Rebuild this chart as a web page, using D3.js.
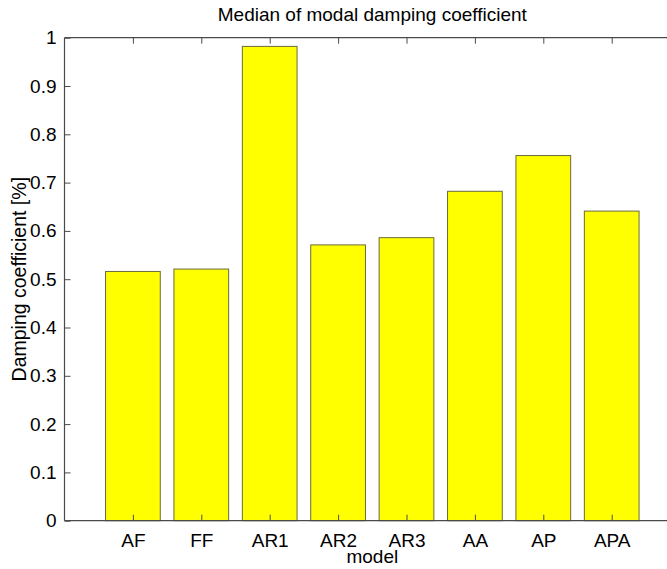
<!DOCTYPE html>
<html>
<head>
<meta charset="utf-8">
<script src="https://cdn.jsdelivr.net/npm/d3@7"></script>
<style>
  html, body { margin: 0; padding: 0; background: #fff; }
  svg { display: block; }
  text { font-family: "Liberation Sans", Arial, Helvetica, sans-serif; fill: #000; }
</style>
</head>
<body>
<svg id="chart" width="667" height="569"></svg>
<script>
// Median modal damping coefficient per model
const models = ["AF", "FF", "AR1", "AR2", "AR3", "AA", "AP", "APA"];
const damping = [0.516, 0.521, 0.982, 0.571, 0.586, 0.682, 0.756, 0.641];
const yTicks = [0, 0.1, 0.2, 0.3, 0.4, 0.5, 0.6, 0.7, 0.8, 0.9, 1];
const yTickLabels = ["0", "0.1", "0.2", "0.3", "0.4", "0.5", "0.6", "0.7", "0.8", "0.9", "1"];

const svg = d3.select("#chart");
const plotLeft = 64.5, plotTop = 37.7, plotBottom = 520.7;
const step = 68.4;
const plotRight = plotLeft + 9 * step;   // axis box runs past the window edge

const x = d3.scaleLinear().domain([0, 9]).range([plotLeft, plotRight]);
const y = d3.scaleLinear().domain([0, 1]).range([plotBottom, plotTop]);
const barW = x(0.8) - x(0);
const tickLen = 6;
const axisColor = "#4a4a4a";
const fontStack = '"Liberation Sans", Arial, sans-serif';

// bars
svg.append("g").selectAll("rect")
  .data(damping)
  .join("rect")
  .attr("x", (d, i) => x(i + 1) - barW / 2)
  .attr("y", d => y(d))
  .attr("width", barW)
  .attr("height", d => y(0) - y(d))
  .attr("fill", "#ffff00")
  .attr("stroke", "#6b6b3a")
  .attr("stroke-width", 1);

// box
const box = svg.append("g").attr("stroke", axisColor).attr("stroke-width", 1.2).attr("fill", "none");
box.append("line").attr("x1", plotLeft).attr("x2", plotRight).attr("y1", plotTop).attr("y2", plotTop);
box.append("line").attr("x1", plotLeft).attr("x2", plotRight).attr("y1", plotBottom).attr("y2", plotBottom);
box.append("line").attr("x1", plotLeft).attr("x2", plotLeft).attr("y1", plotTop).attr("y2", plotBottom);
box.append("line").attr("x1", plotRight).attr("x2", plotRight).attr("y1", plotTop).attr("y2", plotBottom);

// left axis (ticks point inward)
const yAxis = d3.axisLeft(y).tickValues(yTicks)
  .tickFormat((d, i) => yTickLabels[i]).tickSizeInner(-tickLen).tickSizeOuter(0).tickPadding(8);
const gy = svg.append("g").attr("transform", `translate(${plotLeft},0)`).call(yAxis);
gy.select(".domain").remove();
gy.selectAll("line").attr("stroke", axisColor);
gy.selectAll("text").attr("font-size", 19).attr("fill", "#000")
  .style("font-family", fontStack);

// bottom axis
const xAxis = d3.axisBottom(x).tickValues(models.map((m, i) => i + 1))
  .tickFormat((d, i) => models[i]).tickSizeInner(-tickLen).tickSizeOuter(0).tickPadding(13);
const gx = svg.append("g").attr("transform", `translate(0,${plotBottom})`).call(xAxis);
gx.select(".domain").remove();
gx.selectAll("line").attr("stroke", axisColor);
gx.selectAll("text").attr("font-size", 19).attr("fill", "#000")
  .style("font-family", fontStack);

// top edge ticks
const gt = svg.append("g").attr("transform", `translate(0,${plotTop})`)
  .call(d3.axisTop(x).tickValues(models.map((m, i) => i + 1)).tickFormat("").tickSizeInner(-tickLen).tickSizeOuter(0));
gt.select(".domain").remove();
gt.selectAll("line").attr("stroke", axisColor);

// titles
svg.append("text")
  .attr("x", (plotLeft + plotRight) / 2).attr("y", 21)
  .attr("text-anchor", "middle").attr("font-size", 19)
  .text("Median of modal damping coefficient");

svg.append("text")
  .attr("x", (plotLeft + plotRight) / 2).attr("y", 563)
  .attr("text-anchor", "middle").attr("font-size", 19)
  .text("model");

svg.append("text")
  .attr("transform", `translate(26,${(plotTop + plotBottom) / 2}) rotate(-90)`)
  .attr("text-anchor", "middle").attr("font-size", 19.5)
  .text("Damping coefficient [%]");
</script>
</body>
</html>
